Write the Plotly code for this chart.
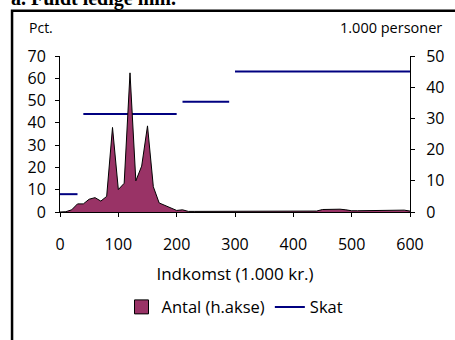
import plotly.graph_objects as go

# Income (1.000 kr.)
income = list(range(0, 610, 10))
# Antal, 1.000 personer (right axis)
antal = [0.0, 0.1, 0.7, 2.6, 2.6, 4.1, 4.6, 3.5, 5.0, 27.1,
         7.2, 9.2, 44.6, 10.0, 14.7, 27.6, 8.1, 2.9, 2.1, 1.3,
         0.5, 0.7, 0.2, 0.2, 0.2, 0.2, 0.1, 0.2, 0.1, 0.1,
         0.2, 0.1, 0.1, 0.1, 0.1, 0.1, 0.1, 0.1, 0.1, 0.1,
         0.1, 0.1, 0.1, 0.1, 0.3, 0.8, 0.9, 0.9, 0.9, 0.7,
         0.4, 0.4, 0.4, 0.4, 0.4, 0.4, 0.4, 0.4, 0.4, 0.6, 0.3]

# Skat (pct.), left axis - segments
skat_x = [0, 30, None, 40, 200, None, 210, 290, None, 300, 600]
skat_y = [8, 8, None, 44, 44, None, 49.5, 49.5, None, 63, 63]

FONT = "Open Sans"
PLUM = "#993366"

fig = go.Figure()
fig.add_trace(go.Scatter(
    x=income, y=antal, name="Antal (h.akse)", yaxis="y2",
    mode="lines", fill="tozeroy", fillcolor=PLUM,
    line=dict(color="black", width=1), showlegend=False,
))
# legend swatch for the area
fig.add_trace(go.Scatter(
    x=[None], y=[None], name="Antal (h.akse)", yaxis="y2", mode="markers",
    marker=dict(symbol="square", size=14, color=PLUM,
                line=dict(color="black", width=1)),
))
fig.add_trace(go.Scatter(
    x=skat_x, y=skat_y, name="Skat", yaxis="y",
    mode="lines", line=dict(color="#000080", width=2),
    connectgaps=False,
))

axis_common = dict(
    showgrid=False, zeroline=False, showline=True, linecolor="black",
    linewidth=1, ticks="outside", ticklen=4, tickcolor="black",
    tickfont=dict(family=FONT, size=16, color="black"),
    automargin=False,
)

fig.update_layout(
    width=455, height=340,
    margin=dict(l=60, r=45, t=56, b=128),
    paper_bgcolor="white", plot_bgcolor="white",
    showlegend=True,
    legend=dict(orientation="h", x=0.5, xanchor="center", y=-0.61,
                yanchor="middle", font=dict(family=FONT, size=16.5, color="black"),
                itemwidth=30, tracegroupgap=0),
    xaxis=dict(range=[0, 600], tickvals=[0, 100, 200, 300, 400, 500, 600],
               ticklabelstandoff=14,
               title=dict(text="Indkomst (1.000 kr.)",
                          font=dict(family=FONT, size=17, color="black"),
                          standoff=13),
               **axis_common),
    yaxis=dict(range=[0, 70], tickvals=[0, 10, 20, 30, 40, 50, 60, 70],
               ticklabelstandoff=6, **axis_common),
    yaxis2=dict(range=[0, 50], tickvals=[0, 10, 20, 30, 40, 50],
                overlaying="y", side="right", ticklabelstandoff=8,
                **axis_common),
    annotations=[
        dict(text="Pct.", x=-0.094, y=1.18, xref="paper", yref="paper",
             xanchor="left", yanchor="middle", showarrow=False,
             font=dict(family=FONT, size=14, color="black")),
        dict(text="1.000 personer", x=1.097, y=1.18, xref="paper", yref="paper",
             xanchor="right", yanchor="middle", showarrow=False,
             font=dict(family=FONT, size=14.5, color="black")),
        dict(text="<b>a. Fuldt ledige mm.</b>", x=-0.145, y=1.285,
             xref="paper", yref="paper", xanchor="left", yanchor="bottom",
             showarrow=False,
             font=dict(family="Liberation Serif", size=20, color="black")),
    ],
    shapes=[
        dict(type="rect", xref="paper", yref="paper",
             x0=-0.137, x1=1.15, y0=-0.86, y1=1.29,
             line=dict(color="black", width=2.5), fillcolor="rgba(0,0,0,0)",
             layer="below"),
    ],
)

fig.write_html("out.html", config={"displayModeBar": False},
               post_script="document.body.style.margin='0px';")
